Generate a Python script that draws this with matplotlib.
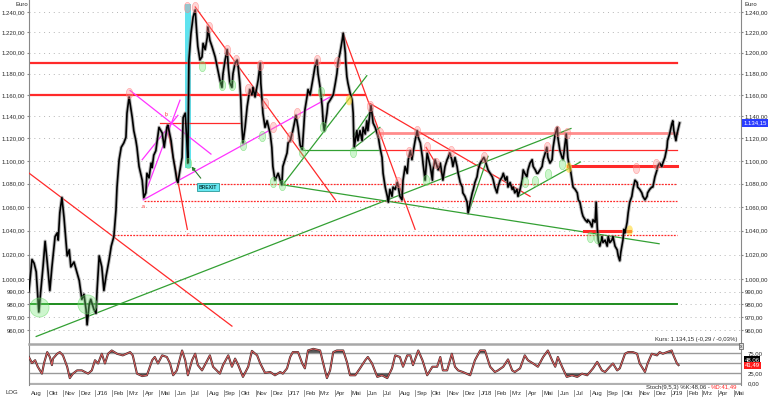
import numpy as np
import pandas as pd
import matplotlib
matplotlib.use("Agg")
import matplotlib.pyplot as plt
from matplotlib.path import Path
from matplotlib.ticker import NullLocator

plt.rcParams["font.family"] = ["Liberation Sans", "DejaVu Sans"]

# Goldpreis in Euro, Tagesschlusskurse (Tage seit 1.1.2016, Kurs)
price = [
    (-127, 990), (-121, 1016), (-117, 1013), (-113, 1006), (-108, 974), (-104, 992), (-100, 1010),
    (-96, 1031), (-92, 1014), (-87, 991), (-83, 1010), (-77, 1035), (-73, 1038), (-71, 1032),
    (-68, 1055), (-64, 1068), (-60, 1051), (-54, 1019), (-50, 1024), (-47, 1010), (-41, 1014),
    (-35, 1005), (-31, 999), (-26, 984), (-22, 988), (-18, 976), (-16, 964), (-12, 980), (-9, 984),
    (-3, 976), (1, 973), (3, 991), (7, 1019), (12, 1010), (16, 991), (20, 1002), (26, 1016),
    (30, 1027), (35, 1035), (39, 1057), (41, 1077), (45, 1101), (49, 1112), (54, 1116), (58, 1121),
    (60, 1143), (64, 1158), (70, 1139), (73, 1127), (77, 1118), (79, 1112), (83, 1095), (89, 1083),
    (92, 1068), (96, 1072), (98, 1089), (102, 1085), (106, 1098), (108, 1094), (111, 1105),
    (115, 1109), (121, 1130), (127, 1125), (131, 1112), (136, 1130), (138, 1132), (144, 1118),
    (148, 1103), (152, 1092), (155, 1083), (157, 1081), (161, 1092), (165, 1103), (167, 1139),
    (171, 1143), (174, 1118), (176, 1098), (178, 1193), (182, 1219), (186, 1235), (190, 1242),
    (193, 1219), (195, 1206), (199, 1193), (203, 1196), (205, 1209), (209, 1203), (213, 1215),
    (214, 1225), (218, 1212), (222, 1206), (228, 1196), (232, 1186), (237, 1174), (241, 1167),
    (243, 1180), (247, 1193), (251, 1203), (253, 1186), (256, 1171), (260, 1167), (262, 1180),
    (266, 1190), (270, 1193), (272, 1186), (275, 1171), (277, 1155), (279, 1130), (281, 1116),
    (285, 1130), (289, 1149), (294, 1165), (298, 1160), (300, 1167), (304, 1158), (310, 1174),
    (314, 1190), (315, 1171), (317, 1158), (319, 1143), (323, 1130), (327, 1136), (333, 1124),
    (336, 1112), (338, 1095), (342, 1083), (348, 1089), (352, 1083), (355, 1079), (357, 1095),
    (361, 1101), (365, 1107), (367, 1116), (371, 1118), (376, 1127), (382, 1141), (386, 1130),
    (390, 1114), (394, 1110), (396, 1124), (399, 1146), (403, 1158), (405, 1165), (409, 1160),
    (413, 1171), (415, 1177), (418, 1186), (422, 1193), (424, 1180), (428, 1167), (432, 1149),
    (434, 1134), (436, 1127), (441, 1143), (443, 1152), (447, 1155), (453, 1160), (457, 1171),
    (460, 1180), (462, 1190), (466, 1200), (470, 1212), (472, 1219), (476, 1200), (477, 1190),
    (479, 1177), (481, 1171), (485, 1162), (489, 1155), (491, 1143), (492, 1124), (493, 1112),
    (498, 1127), (500, 1118), (504, 1127), (508, 1118), (510, 1130), (514, 1124), (517, 1136),
    (519, 1127), (523, 1143), (525, 1150), (529, 1134), (533, 1130), (537, 1124), (539, 1121),
    (542, 1112), (546, 1103), (548, 1089), (552, 1077), (556, 1069), (558, 1064), (561, 1075),
    (565, 1069), (567, 1077), (571, 1075), (575, 1081), (577, 1077), (580, 1069), (584, 1066),
    (586, 1083), (590, 1095), (594, 1089), (596, 1101), (600, 1109), (603, 1101), (605, 1107),
    (609, 1118), (613, 1127), (615, 1121), (619, 1116), (623, 1103), (624, 1098), (628, 1083),
    (632, 1107), (634, 1103), (638, 1095), (642, 1083), (643, 1092), (647, 1101), (653, 1092),
    (657, 1098), (660, 1089), (662, 1083), (666, 1095), (670, 1101), (672, 1103), (675, 1107),
    (679, 1101), (681, 1095), (685, 1103), (689, 1095), (691, 1089), (695, 1081), (699, 1077),
    (700, 1072), (704, 1069), (708, 1064), (710, 1055), (714, 1064), (718, 1072), (720, 1075),
    (723, 1081), (727, 1086), (729, 1092), (733, 1098), (737, 1101), (740, 1103), (742, 1101),
    (746, 1095), (748, 1092), (752, 1089), (756, 1086), (758, 1083), (761, 1077), (765, 1072),
    (767, 1077), (771, 1083), (775, 1086), (777, 1089), (781, 1083), (784, 1086), (786, 1077),
    (790, 1081), (794, 1075), (796, 1077), (799, 1072), (803, 1075), (805, 1069), (809, 1075),
    (813, 1083), (815, 1092), (818, 1089), (822, 1086), (824, 1092), (828, 1098), (832, 1101),
    (834, 1095), (838, 1092), (841, 1089), (843, 1089), (847, 1092), (851, 1095), (853, 1101),
    (857, 1107), (860, 1112), (862, 1103), (866, 1098), (870, 1101), (872, 1112), (876, 1124),
    (880, 1130), (881, 1121), (885, 1109), (889, 1103), (891, 1101), (895, 1116), (897, 1124),
    (900, 1103), (902, 1097), (904, 1095), (908, 1083), (910, 1077), (914, 1075), (918, 1072),
    (920, 1066), (923, 1064), (927, 1055), (929, 1052), (933, 1049), (937, 1047), (938, 1049),
    (942, 1047), (946, 1043), (948, 1049), (952, 1047), (954, 1064), (956, 1043), (958, 1032),
    (961, 1027), (965, 1035), (967, 1030), (971, 1032), (975, 1027), (977, 1035), (980, 1030),
    (984, 1032), (986, 1035), (990, 1027), (994, 1024), (996, 1019), (999, 1015), (1001, 1022),
    (1005, 1032), (1007, 1041), (1009, 1038), (1013, 1047), (1015, 1055), (1018, 1064),
    (1022, 1069), (1024, 1075), (1028, 1083), (1032, 1081), (1033, 1077), (1037, 1075),
    (1041, 1072), (1043, 1069), (1047, 1066), (1051, 1069), (1052, 1072), (1056, 1075),
    (1060, 1077), (1062, 1077), (1066, 1086), (1070, 1092), (1071, 1095), (1075, 1098),
    (1079, 1095), (1081, 1098), (1085, 1103), (1089, 1112), (1090, 1118), (1094, 1124),
    (1098, 1133), (1100, 1136), (1102, 1127), (1106, 1118), (1108, 1124), (1111, 1130), (1113, 1134),
]

# Stochastik (9,5,3)
stoch = [
    (-127, 65), (-121, 50), (-115, 57), (-110, 41), (-102, 24), (-98, 50), (-92, 77), (-87, 65),
    (-83, 45), (-81, 61), (-73, 73), (-68, 77), (-62, 69), (-54, 41), (-49, 13), (-43, 24),
    (-35, 32), (-26, 32), (-20, 28), (-14, 24), (-7, 32), (-1, 57), (5, 49), (12, 73), (18, 49),
    (24, 73), (31, 81), (41, 73), (52, 69), (66, 77), (71, 69), (79, 24), (89, 18), (98, 20),
    (108, 57), (113, 65), (119, 49), (127, 69), (136, 65), (142, 49), (148, 20), (155, 32),
    (165, 81), (171, 57), (176, 20), (184, 57), (190, 73), (195, 45), (203, 32), (213, 57),
    (218, 69), (224, 41), (237, 24), (243, 45), (253, 69), (260, 41), (266, 61), (272, 45),
    (281, 16), (291, 41), (298, 80), (308, 69), (314, 49), (323, 26), (333, 28), (342, 20),
    (352, 28), (357, 24), (365, 37), (371, 65), (376, 77), (386, 77), (394, 49), (399, 37),
    (405, 81), (415, 85), (428, 81), (434, 49), (441, 13), (447, 32), (453, 77), (460, 81),
    (472, 81), (479, 53), (485, 20), (495, 20), (504, 37), (514, 57), (519, 65), (527, 49),
    (537, 16), (546, 20), (556, 13), (565, 37), (571, 69), (580, 65), (586, 41), (594, 69),
    (600, 69), (605, 45), (615, 81), (623, 57), (632, 20), (642, 41), (651, 41), (657, 65),
    (662, 32), (670, 32), (679, 73), (685, 41), (691, 32), (700, 28), (714, 20), (723, 57),
    (733, 81), (742, 81), (752, 41), (761, 28), (767, 32), (777, 41), (786, 59), (794, 32),
    (799, 28), (809, 37), (818, 69), (824, 57), (834, 49), (843, 41), (853, 65), (862, 81),
    (870, 57), (876, 41), (881, 65), (889, 41), (898, 16), (908, 20), (918, 16), (927, 24),
    (937, 20), (948, 37), (956, 53), (965, 32), (971, 28), (980, 41), (986, 49), (994, 32),
    (999, 37), (1009, 73), (1015, 77), (1024, 77), (1032, 73), (1037, 49), (1047, 28),
    (1052, 49), (1060, 73), (1070, 69), (1075, 77), (1081, 73), (1089, 77), (1098, 81),
    (1100, 73), (1108, 49), (1111, 45),
]

y_ticks = [960, 970, 980, 990, 1000, 1020, 1040, 1060, 1080, 1100, 1120, 1140, 1160, 1180, 1200, 1220, 1240]
stoch_ticks = [75, 25, 0]
month_de = {1: "J", 2: "Feb", 3: "Mrz", 4: "Apr", 5: "Mai", 6: "Jun", 7: "Jul",
            8: "Aug", 9: "Sep", 10: "Okt", 11: "Nov", 12: "Dez"}

# Marken: Hochpunkte, Tiefpunkte, gelbe Punkte
peaks = [(64, 1162), (174, 1245), (190, 1245), (216, 1225), (251, 1203), (268, 1193), (291, 1165),
         (314, 1188), (323, 1152), (338, 1130), (371, 1121), (384, 1143), (422, 1193), (460, 1191),
         (523, 1150), (542, 1125), (577, 1081), (598, 1108), (613, 1127), (632, 1112), (649, 1098),
         (678, 1109), (740, 1103), (860, 1112), (880, 1127), (899, 1125), (1030, 1094), (1068, 1097)]
troughs = [(176, 1098), (203, 1187), (241, 1169), (260, 1169), (281, 1114), (318, 1122), (338, 1081),
           (356, 1079), (394, 1108), (430, 1163), (434, 1130), (491, 1108), (630, 1083), (818, 1081),
           (838, 1082), (862, 1088), (889, 1097), (942, 1035), (956, 1034)]
big_troughs = [(-108, 978), (-16, 980)]
yellow_pts = [(483, 1155), (902, 1094), (1018, 1040)]

# Horizontale Linien: (Kurs, von Tag, bis Tag)
red_levels = [(1190, -127, 1108), (1160, -127, 514)]
red_thin_levels = [(1134, 123, 277), (1110, 542, 1108)]
light_red_levels = [(1125, 538, 1108)]
red_bold_levels = [(1095, 901, 1108), (1040, 931, 1019)]
red_dotted_levels = [(1080, 155, 1108), (1065, 92, 1108), (1036, 35, 1108)]
green_levels = [(980, -127, 1108)]
green_thin_levels = [(1110, 396, 542)]

# Trendlinien: ((Tag, Kurs), (Tag, Kurs))
red_trends = [((-129, 1090), (260, 963)), ((190, 1245), (457, 1066)), ((472, 1219), (609, 1041)),
              ((523, 1152), (828, 1069)), ((630, 1112), (662, 1087)), ((136, 1132), (175, 1041))]
magenta_trends = [((66, 1164), (220, 1106)), ((91, 1067), (161, 1155)), ((89, 1101), (157, 1141)),
                  ((91, 1066), (447, 1158))]
green_trends = [((-113, 955), (906, 1129)), ((356, 1079), (1074, 1029)), ((357, 1079), (517, 1178)),
                ((491, 1122), (527, 1147)), ((491, 1111), (542, 1130)), ((710, 1054), (748, 1104)),
                ((806, 1069), (924, 1099))]

abc_labels = [("a", 91, 1060), ("b", 134, 1142), ("c", 177, 1037)]
brexit_span = (171, 182, 1094, 1248)


def de(v):
    s = f"{v:,.2f}"
    return s.replace(",", "X").replace(".", ",").replace("X", ".")


base = pd.Timestamp("2016-01-01")
x_lo, x_hi = -126.7, 1230

fig = plt.figure(figsize=(7.68, 3.97), dpi=100)
W, H = 768, 397
ax = fig.add_axes([29 / W, 1 - 343 / H, 712 / W, 343 / H])
ax_st = fig.add_axes([29 / W, 1 - 385 / H, 712 / W, 41 / H])
ax_dt = fig.add_axes([29 / W, 0, 712 / W, 12 / H])

RED = "#ff2a2a"
GREEN = "#33a033"
FS = 4.3
TXT = "#2a2a2a"

# --- Hauptchart ---
ax.set_yscale("log")
ax.set_xlim(x_lo, x_hi)
ax.set_ylim(950, 1252)
ax.yaxis.set_minor_locator(NullLocator())
ax.set_yticks(y_ticks)
ax.set_yticklabels([de(v) for v in y_ticks])
ax.tick_params(axis="y", which="both", labelsize=FS, labelcolor=TXT, length=1.5, color="#888",
               left=True, right=True, labelleft=True, labelright=True, pad=1.2)
ax.set_xticks([])
for s in ["top", "bottom"]:
    ax.spines[s].set_visible(False)
for s in ["left", "right"]:
    ax.spines[s].set_color("#888888")
    ax.spines[s].set_linewidth(0.8)
for v in y_ticks:
    ax.axhline(v, color="#b5b5b5", lw=0.7, ls=(0, (1, 4)), zorder=0)

d0, d1, v0, v1 = brexit_span
ax.fill_between([d0, d1], v0, v1, color="#5fe3ef", zorder=1, lw=0)

for v, a, b in red_levels:
    ax.plot([a, b], [v, v], color=RED, lw=1.6, zorder=2)
for v, a, b in red_thin_levels:
    ax.plot([a, b], [v, v], color=RED, lw=0.9, zorder=2)
for v, a, b in light_red_levels:
    ax.plot([a, b], [v, v], color="#ff8c8c", lw=2.0, zorder=2)
for v, a, b in red_bold_levels:
    ax.plot([a, b], [v, v], color=RED, lw=2.2, zorder=4)
for v, a, b in red_dotted_levels:
    ax.plot([a, b], [v, v], color=RED, lw=0.9, ls=(0, (1.5, 1)), zorder=2)
for v, a, b in green_levels:
    ax.plot([a, b], [v, v], color="#1e8c1e", lw=1.4, zorder=2)
for v, a, b in green_thin_levels:
    ax.plot([a, b], [v, v], color=GREEN, lw=0.9, zorder=2)

for (a, va), (b, vb) in red_trends:
    ax.plot([a, b], [va, vb], color=RED, lw=0.9, zorder=3)
for (a, va), (b, vb) in magenta_trends:
    ax.plot([a, b], [va, vb], color="#ff33ff", lw=0.9, zorder=3)
for (a, va), (b, vb) in green_trends:
    ax.plot([a, b], [va, vb], color=GREEN, lw=0.9, zorder=3)

pd_days = np.array([p[0] for p in price])
pd_close = np.array([p[1] for p in price])
ax.plot(pd_days, pd_close, color="#8c8c8c", lw=2.6, alpha=0.6, zorder=5, solid_joinstyle="round")
ax.plot(pd_days, pd_close, color="black", lw=1.2, zorder=6, solid_joinstyle="round")

t = np.linspace(0, 2 * np.pi, 40)
ell = Path(np.column_stack([0.62 * np.cos(t), np.sin(t)]))
ax.scatter([p[0] for p in peaks], [p[1] for p in peaks], marker=ell, s=55,
           facecolor=(1, 0.55, 0.55, 0.35), edgecolor=(1, 0.5, 0.5, 0.6), lw=0.5, zorder=7)
ax.scatter([p[0] for p in troughs], [p[1] for p in troughs], marker=ell, s=55,
           facecolor=(0.45, 0.9, 0.45, 0.35), edgecolor=(0.4, 0.85, 0.4, 0.6), lw=0.5, zorder=7)
ax.scatter([p[0] for p in big_troughs], [p[1] for p in big_troughs], marker="o", s=190,
           facecolor=(0.45, 0.9, 0.45, 0.35), edgecolor=(0.4, 0.85, 0.4, 0.6), lw=0.5, zorder=7)
ax.scatter([p[0] for p in yellow_pts], [p[1] for p in yellow_pts], marker=ell, s=55,
           facecolor=(1, 0.85, 0.2, 0.6), edgecolor="none", zorder=7)

for lab, d, v in abc_labels:
    ax.text(d, v, lab, color=RED, fontsize=3.6, ha="center", va="center", zorder=8)

ax.annotate("BREXIT", xy=(183, 1095), xytext=(214, 1077), fontsize=3.6, fontweight="bold",
            color="#114444", ha="center", va="center", zorder=9,
            bbox=dict(boxstyle="square,pad=0.35", fc="#66e8f2", ec="#2a9a9a", lw=0.6),
            arrowprops=dict(arrowstyle="-|>", color="#2a7a2a", lw=0.8, mutation_scale=5,
                            shrinkA=4, shrinkB=0))

ax.text(1.003, 1134.15, de(1134.15), transform=ax.get_yaxis_transform(), fontsize=FS,
        color="white", ha="left", va="center", zorder=10,
        bbox=dict(boxstyle="square,pad=0.2", fc="#2a3cff", ec="none"))
ax.text(1.005, 1 - 4 / 343, "Euro", transform=ax.transAxes, fontsize=FS, color=TXT, va="center")
fig.text(15 / W, 1 - 4 / H, "Euro", fontsize=FS, color=TXT, va="center")
ax.text((737 - 29) / 712, 4 / 343, "Kurs: 1.134,15 (-0,29 / -0,03%)", transform=ax.transAxes,
        fontsize=FS, color=TXT, ha="right", va="center")

# --- Stochastik ---
st_d = np.array([p[0] for p in stoch])
st_k = np.array([p[1] for p in stoch], dtype=float)
ax_st.set_xlim(x_lo, x_hi)
ax_st.set_ylim(-4, 97)
ax_st.set_xticks([])
ax_st.set_yticks(stoch_ticks)
ax_st.set_yticklabels([de(v) for v in stoch_ticks])
ax_st.tick_params(axis="y", labelsize=FS, labelcolor=TXT, length=0, left=False, right=True,
                  labelleft=False, labelright=True, pad=5)
ax_st.spines["bottom"].set_visible(False)
ax_st.spines["top"].set_color("#a8a8a8")
ax_st.spines["top"].set_linewidth(1.8)
for s in ["left", "right"]:
    ax_st.spines[s].set_color("#888888")
    ax_st.spines[s].set_linewidth(0.8)
for v in [75, 50, 25]:
    ax_st.axhline(v, color="#9a9a9a", lw=1.0, zorder=1)
ax_st.axhline(-1.5, color="#b0b0b0", lw=1.6, zorder=1)
ax_st.fill_between(st_d, st_k, 75, where=st_k > 75, interpolate=True, color="#5a5a5a", lw=0, zorder=2)
ax_st.fill_between(st_d, st_k, 25, where=st_k < 25, interpolate=True, color="#5a5a5a", lw=0, zorder=2)
ax_st.plot(st_d, st_k, color="#3a2a2a", lw=1.5, zorder=3)
ax_st.plot(st_d, st_k, color="#e06060", lw=0.7, zorder=4)

tr = ax_st.get_yaxis_transform()
ax_st.text(1.005, 59, "48,06", transform=tr, fontsize=FS, color="white", ha="left", va="center",
           bbox=dict(boxstyle="square,pad=0.15", fc="black", ec="none"), zorder=10)
ax_st.text(1.005, 45, "41,49", transform=tr, fontsize=FS, color="white", ha="left", va="center",
           bbox=dict(boxstyle="square,pad=0.15", fc="#ff1a1a", ec="none"), zorder=10)
fig.text(741 / W, 1 - 346 / H, "x", fontsize=3.5, color="#333", ha="center", va="center",
         bbox=dict(boxstyle="square,pad=0.15", fc="#dddddd", ec="#555555", lw=0.5))

# Legende der Stochastik: roter Teil rechts, schwarzer Teil direkt davor
red_txt = fig.text(737 / W, 1 - 387 / H, "%D:41,49", fontsize=FS, color=RED, ha="right", va="center")
fig.canvas.draw()
bb = red_txt.get_window_extent()
fig.text((bb.x0 - 1) / W, 1 - 387 / H, "Stoch(9,5,3) %K:48,06 -", fontsize=FS, color=TXT,
         ha="right", va="center")

# --- Datumsachse ---
ax_dt.set_xlim(x_lo, x_hi)
ax_dt.set_ylim(0, 1)
ax_dt.axis("off")
months = pd.date_range("2015-10-01", "2019-05-01", freq="MS")
for m in months:
    d = (m - base).days
    ax_dt.plot([d, d], [0.05, 0.55], color="#888888", lw=0.6)
    lab = f"J/{m.year % 100:02d}" if m.month == 1 else month_de[m.month]
    ax_dt.text(d + 2.5, 0.3, lab, fontsize=FS, color=TXT, ha="left", va="center")
ax_dt.text(x_lo + 3, 0.3, "Aug", fontsize=FS, color=TXT, ha="left", va="center")
fig.text(5 / W, 1 - 392 / H, "LOG", fontsize=FS, color=TXT, ha="left", va="center")

fig.savefig("out.png", dpi=100)
